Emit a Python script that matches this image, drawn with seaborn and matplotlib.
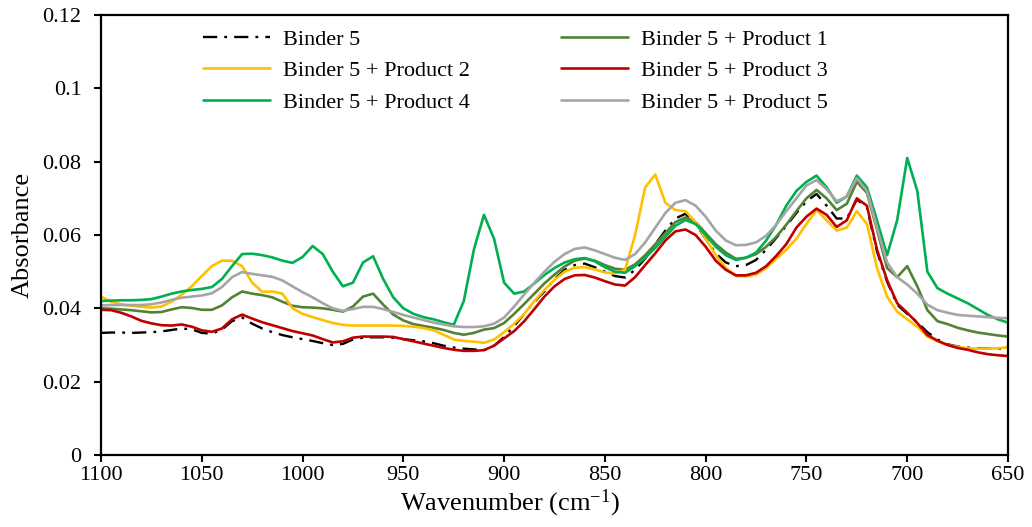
import numpy as np
import pandas as pd
import matplotlib
matplotlib.use("Agg")
import matplotlib.pyplot as plt
import seaborn as sns
from matplotlib.ticker import FuncFormatter, MultipleLocator

wavenumber = list(range(1100, 645, -5))

binder5 = [0.0333, 0.0334, 0.0334, 0.0333, 0.0334, 0.0335, 0.0337, 0.0341, 0.0345, 0.0343,
           0.0333, 0.0331, 0.0342, 0.0365, 0.0375, 0.0358, 0.0345, 0.0335, 0.0327, 0.0321,
           0.0316, 0.0311, 0.0305, 0.0300, 0.0303, 0.0315, 0.0320, 0.0321, 0.0321, 0.0320,
           0.0316, 0.0313, 0.0310, 0.0305, 0.0298, 0.0293, 0.0290, 0.0288, 0.0286, 0.0298,
           0.0322, 0.0352, 0.0385, 0.0418, 0.0446, 0.0480, 0.0505, 0.0518, 0.0522, 0.0512,
           0.0500, 0.0488, 0.0484, 0.0505, 0.0536, 0.0575, 0.0612, 0.0645, 0.0658, 0.0630,
           0.0590, 0.0550, 0.0525, 0.0515, 0.0518, 0.0532, 0.0560, 0.0592, 0.0625, 0.0660,
           0.0692, 0.0712, 0.0680, 0.0645, 0.0645, 0.0697, 0.0675, 0.0555, 0.0473, 0.0410,
           0.0385, 0.0362, 0.0335, 0.0315, 0.0302, 0.0296, 0.0293, 0.0291, 0.0290, 0.0290,
           0.0290]

product1 = [0.0400, 0.0399, 0.0397, 0.0395, 0.0392, 0.0389, 0.0390, 0.0397, 0.0403, 0.0401,
            0.0396, 0.0396, 0.0408, 0.0430, 0.0446, 0.0440, 0.0436, 0.0430, 0.0418, 0.0407,
            0.0403, 0.0402, 0.0400, 0.0396, 0.0391, 0.0405, 0.0432, 0.0440, 0.0410, 0.0383,
            0.0367, 0.0357, 0.0352, 0.0347, 0.0341, 0.0333, 0.0328, 0.0333, 0.0342, 0.0346,
            0.0360, 0.0385, 0.0412, 0.0440, 0.0468, 0.0492, 0.0514, 0.0530, 0.0536, 0.0530,
            0.0518, 0.0508, 0.0505, 0.0520, 0.0545, 0.0575, 0.0605, 0.0635, 0.0648, 0.0635,
            0.0605, 0.0575, 0.0552, 0.0535, 0.0538, 0.0548, 0.0568, 0.0595, 0.0628, 0.0665,
            0.0700, 0.0723, 0.0700, 0.0668, 0.0685, 0.0745, 0.0715, 0.0615, 0.0510, 0.0485,
            0.0515, 0.0460, 0.0395, 0.0365, 0.0357, 0.0347, 0.0340, 0.0334, 0.0330, 0.0326,
            0.0323]

product2 = [0.0432, 0.0418, 0.0411, 0.0407, 0.0404, 0.0402, 0.0405, 0.0418, 0.0437, 0.0460,
            0.0488, 0.0515, 0.0530, 0.0530, 0.0515, 0.0470, 0.0445, 0.0446, 0.0440, 0.0400,
            0.0385, 0.0376, 0.0368, 0.0360, 0.0355, 0.0353, 0.0353, 0.0353, 0.0353, 0.0353,
            0.0352, 0.0350, 0.0346, 0.0340, 0.0328, 0.0315, 0.0311, 0.0309, 0.0306, 0.0315,
            0.0335, 0.0358, 0.0385, 0.0420, 0.0450, 0.0478, 0.0500, 0.0511, 0.0512, 0.0506,
            0.0498, 0.0495, 0.0505, 0.0600, 0.0730, 0.0765, 0.0688, 0.0668, 0.0665, 0.0635,
            0.0590, 0.0545, 0.0510, 0.0488, 0.0487, 0.0492, 0.0510, 0.0535, 0.0560, 0.0590,
            0.0630, 0.0668, 0.0640, 0.0612, 0.0620, 0.0665, 0.0630, 0.0510, 0.0432, 0.0391,
            0.0370, 0.0350, 0.0323, 0.0310, 0.0300, 0.0295, 0.0291, 0.0290, 0.0290, 0.0291,
            0.0294]

product3 = [0.0396, 0.0395, 0.0388, 0.0378, 0.0366, 0.0359, 0.0354, 0.0353, 0.0356, 0.0350,
            0.0340, 0.0336, 0.0345, 0.0370, 0.0383, 0.0372, 0.0362, 0.0354, 0.0346, 0.0338,
            0.0332, 0.0326, 0.0316, 0.0307, 0.0310, 0.0320, 0.0323, 0.0323, 0.0323, 0.0322,
            0.0316, 0.0310, 0.0304, 0.0298, 0.0292, 0.0287, 0.0284, 0.0284, 0.0286, 0.0298,
            0.0318, 0.0338, 0.0365, 0.0398, 0.0432, 0.0460, 0.0480, 0.0490, 0.0491, 0.0484,
            0.0474, 0.0465, 0.0462, 0.0485, 0.0518, 0.0550, 0.0585, 0.0610, 0.0615, 0.0600,
            0.0568, 0.0530, 0.0505, 0.0490, 0.0490, 0.0497, 0.0515, 0.0543, 0.0575, 0.0620,
            0.0650, 0.0672, 0.0655, 0.0622, 0.0640, 0.0700, 0.0680, 0.0560, 0.0477, 0.0414,
            0.0388, 0.0360, 0.0327, 0.0312, 0.0300, 0.0292, 0.0287, 0.0280, 0.0275, 0.0272,
            0.0270]

product4 = [0.0420, 0.0421, 0.0422, 0.0422, 0.0423, 0.0425, 0.0432, 0.0440, 0.0446, 0.0450,
            0.0453, 0.0458, 0.0480, 0.0515, 0.0548, 0.0549, 0.0545, 0.0539, 0.0530, 0.0524,
            0.0540, 0.0570, 0.0548, 0.0500, 0.0460, 0.0470, 0.0525, 0.0542, 0.0480, 0.0430,
            0.0400, 0.0385, 0.0376, 0.0370, 0.0362, 0.0355, 0.0420, 0.0560, 0.0655, 0.0590,
            0.0470, 0.0440, 0.0446, 0.0468, 0.0491, 0.0510, 0.0525, 0.0534, 0.0537, 0.0528,
            0.0512, 0.0500, 0.0497, 0.0515, 0.0538, 0.0565, 0.0595, 0.0625, 0.0641, 0.0630,
            0.0600, 0.0568, 0.0545, 0.0532, 0.0538, 0.0552, 0.0585, 0.0628, 0.0680, 0.0720,
            0.0745, 0.0762, 0.0730, 0.0688, 0.0705, 0.0762, 0.0730, 0.0640, 0.0545, 0.0640,
            0.0810, 0.0720, 0.0500, 0.0455, 0.0440, 0.0427, 0.0414, 0.0398, 0.0382, 0.0370,
            0.0361]

product5 = [0.0408, 0.0409, 0.0409, 0.0409, 0.0409, 0.0411, 0.0416, 0.0423, 0.0429, 0.0432,
            0.0435, 0.0441, 0.0458, 0.0485, 0.0499, 0.0494, 0.0490, 0.0486, 0.0476, 0.0460,
            0.0444, 0.0430, 0.0414, 0.0400, 0.0393, 0.0398, 0.0404, 0.0404, 0.0398, 0.0390,
            0.0382, 0.0375, 0.0368, 0.0361, 0.0356, 0.0351, 0.0349, 0.0349, 0.0351, 0.0358,
            0.0375, 0.0405, 0.0438, 0.0470, 0.0500, 0.0527, 0.0548, 0.0562, 0.0566, 0.0558,
            0.0548, 0.0538, 0.0532, 0.0548, 0.0580, 0.0620, 0.0660, 0.0688, 0.0695, 0.0680,
            0.0650, 0.0612, 0.0585, 0.0572, 0.0573, 0.0580, 0.0598, 0.0628, 0.0665, 0.0700,
            0.0735, 0.0750, 0.0725, 0.0692, 0.0705, 0.0755, 0.0720, 0.0620, 0.0525, 0.0485,
            0.0465, 0.0440, 0.0410, 0.0395, 0.0388, 0.0382, 0.0380, 0.0378, 0.0376, 0.0374,
            0.0373]

series_names = ["Binder 5", "Binder 5 + Product 1", "Binder 5 + Product 2",
                "Binder 5 + Product 3", "Binder 5 + Product 4", "Binder 5 + Product 5"]
series_values = [binder5, product1, product2, product3, product4, product5]
colors = ["#000000", "#548235", "#FFC000", "#C00000", "#00B050", "#A5A5A5"]

sns.set_style("ticks")
plt.rcParams["font.family"] = ["Liberation Serif", "DejaVu Serif"]
plt.rcParams["mathtext.fontset"] = "custom"
plt.rcParams["mathtext.rm"] = "Liberation Serif"
plt.rcParams["mathtext.it"] = "Liberation Serif:italic"
plt.rcParams["text.color"] = "black"
plt.rcParams["axes.labelcolor"] = "black"
plt.rcParams["xtick.color"] = "black"
plt.rcParams["ytick.color"] = "black"

fig = plt.figure(figsize=(10.32, 5.27), dpi=100)
ax = fig.add_axes([101 / 1032, 1 - 455 / 527, (1008 - 101) / 1032, (455 - 15) / 527])

for name, vals, col in zip(series_names, series_values, colors):
    df = pd.DataFrame({"w": wavenumber, "a": vals})
    sns.lineplot(data=df, x="w", y="a", ax=ax, color=col,
                 linewidth=1.7 if name == "Binder 5" else 1.9,
                 label=name, estimator=None, sort=False)
    ax.lines[-1].set_solid_joinstyle("round")
    if name == "Binder 5":
        ax.lines[-1].set_dashes([6, 3, 1.2, 3])

ax.set_xlim(1100, 650)
ax.set_ylim(0, 0.12)
ax.xaxis.set_major_locator(MultipleLocator(50))
ax.yaxis.set_major_locator(MultipleLocator(0.02))
ax.yaxis.set_major_formatter(FuncFormatter(lambda v, p: "0" if abs(v) < 1e-9 else ("%.2f" % v).rstrip("0")))
ax.tick_params(axis="both", direction="out", length=5, width=1.5, labelsize=16,
               colors="black", labelcolor="black")
ax.tick_params(axis="x", pad=3)
ax.tick_params(axis="y", pad=9)
for s in ax.spines.values():
    s.set_visible(True)
    s.set_linewidth(1.6)
    s.set_color("black")

ax.set_xlabel("Wavenumber (cm$^{-1}$)", fontsize=19, labelpad=0, color="black")
ax.xaxis.set_label_coords((510 - 101) / (1008 - 101), -0.075)
ax.set_ylabel("Absorbance", fontsize=19, labelpad=6, color="black")

handles, labels = ax.get_legend_handles_labels()
order = [0, 2, 4, 1, 3, 5]
if ax.get_legend():
    ax.get_legend().remove()
leg = fig.legend([handles[i] for i in order], [labels[i] for i in order],
                 ncol=2, frameon=False, loc="upper left",
                 bbox_to_anchor=(203 / 1032, 1 - 29 / 527),
                 fontsize=16, handlelength=3.0, handletextpad=0.6,
                 columnspacing=4.1, labelspacing=0.5, borderpad=0, borderaxespad=0)
for t in leg.get_texts():
    t.set_color("black")

fig.savefig("out.png", dpi=100)
